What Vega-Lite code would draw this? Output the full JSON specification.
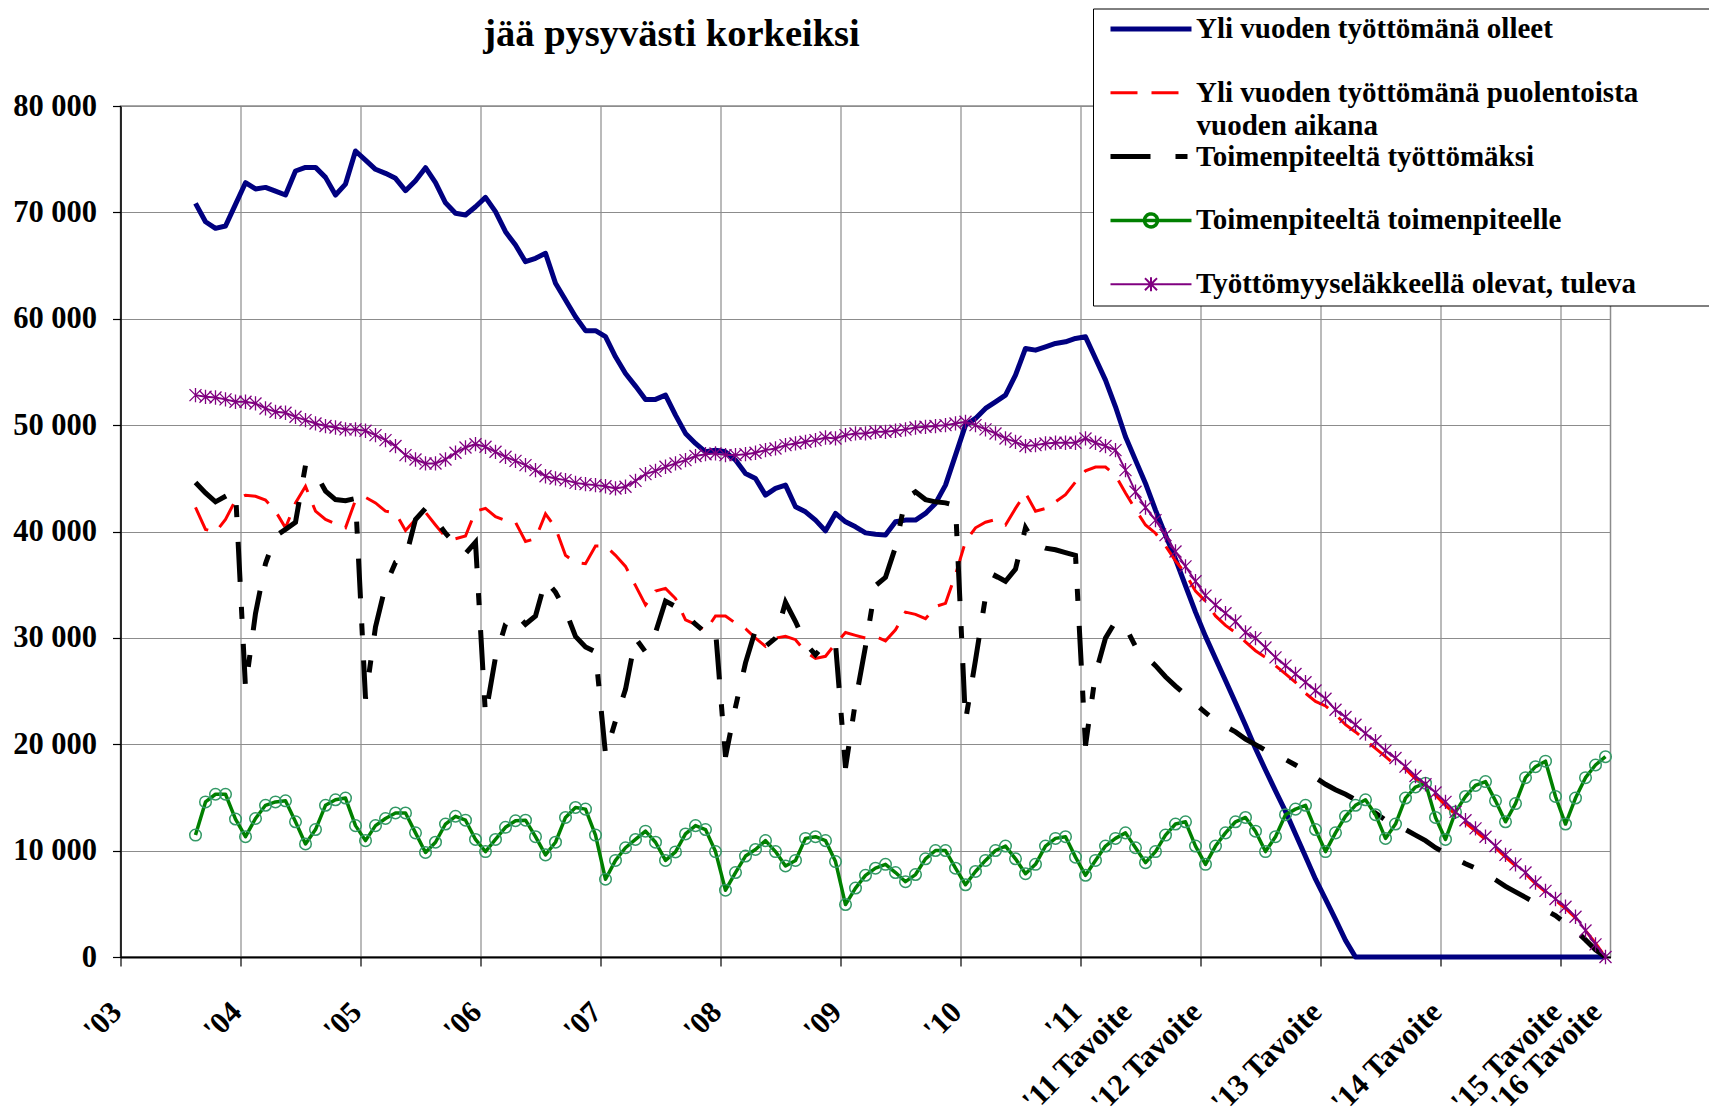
{
  "$schema": "https://vega.github.io/schema/vega-lite/v6.json",
  "width": 1490,
  "height": 851,
  "autosize": {"type": "none"},
  "padding": {"left": 120.5, "top": 106, "right": 98.5, "bottom": 150},
  "background": "white",
  "title": {"text": "jää pysyvästi korkeiksi", "font": "Liberation Serif", "fontSize": 38.5, "fontWeight": "bold", "color": "black", "anchor": "middle", "frame": "group", "dx": -194, "baseline": "alphabetic", "offset": -76},
  "data": {"values": [
    {"t":7,"A":70850,"B":42270,"C":44610,"D":11460,"E":52820},
    {"t":8,"A":69120,"B":40200,"C":43620,"D":14580,"E":52660},
    {"t":9,"A":68500,"B":39940,"C":42790,"D":15300,"E":52600},
    {"t":10,"A":68720,"B":41130,"C":43310,"D":15300,"E":52420},
    {"t":11,"A":70750,"B":42950,"C":43830,"D":12970,"E":52200},
    {"t":12,"A":72790,"B":43410,"C":25310,"D":11310,"E":52200},
    {"t":13,"A":72200,"B":43310,"C":32300,"D":13020,"E":52040},
    {"t":14,"A":72350,"B":42950,"C":36980,"D":14260,"E":51570},
    {"t":15,"A":72000,"B":41910,"C":39580,"D":14580,"E":51250},
    {"t":16,"A":71630,"B":40350,"C":40200,"D":14680,"E":51160},
    {"t":17,"A":73890,"B":42690,"C":40870,"D":12710,"E":50780},
    {"t":18,"A":74230,"B":44250,"C":46220,"D":10630,"E":50470},
    {"t":19,"A":74230,"B":41910,"C":45500,"D":11980,"E":50160},
    {"t":20,"A":73290,"B":41130,"C":43800,"D":14260,"E":49910},
    {"t":21,"A":71630,"B":40720,"C":43000,"D":14780,"E":49780},
    {"t":22,"A":72660,"B":40350,"C":42900,"D":14940,"E":49600},
    {"t":23,"A":75770,"B":42950,"C":43100,"D":12350,"E":49600},
    {"t":24,"A":74920,"B":43210,"C":24280,"D":10940,"E":49470},
    {"t":25,"A":74050,"B":42690,"C":31020,"D":12350,"E":49060},
    {"t":26,"A":73670,"B":41910,"C":34910,"D":13020,"E":48590},
    {"t":27,"A":73200,"B":41750,"C":37090,"D":13540,"E":48030},
    {"t":28,"A":72040,"B":40100,"C":37500,"D":13540,"E":47180},
    {"t":29,"A":72980,"B":41130,"C":41130,"D":11670,"E":46770},
    {"t":30,"A":74200,"B":41800,"C":42170,"D":9830,"E":46400},
    {"t":31,"A":72790,"B":40610,"C":41130,"D":10790,"E":46400},
    {"t":32,"A":70900,"B":39470,"C":39840,"D":12500,"E":46770},
    {"t":33,"A":69910,"B":39320,"C":38800,"D":13230,"E":47400},
    {"t":34,"A":69750,"B":39580,"C":37920,"D":12860,"E":47900},
    {"t":35,"A":70530,"B":41910,"C":38990,"D":11050,"E":48210},
    {"t":36,"A":71410,"B":42170,"C":22720,"D":9910,"E":47960},
    {"t":37,"A":70070,"B":41390,"C":28170,"D":11050,"E":47490},
    {"t":38,"A":68180,"B":41030,"C":31280,"D":12190,"E":47020},
    {"t":39,"A":66930,"B":40870,"C":32310,"D":12810,"E":46640},
    {"t":40,"A":65360,"B":39060,"C":31280,"D":12860,"E":46240},
    {"t":41,"A":65680,"B":39320,"C":32060,"D":11310,"E":45770},
    {"t":42,"A":66150,"B":41650,"C":35430,"D":9600,"E":45200},
    {"t":43,"A":63330,"B":40350,"C":34290,"D":10790,"E":44990},
    {"t":44,"A":61760,"B":37760,"C":32570,"D":13120,"E":44830},
    {"t":45,"A":60190,"B":37090,"C":30140,"D":14060,"E":44570},
    {"t":46,"A":58880,"B":36980,"C":29150,"D":13900,"E":44450},
    {"t":47,"A":58880,"B":38640,"C":28680,"D":11460,"E":44360},
    {"t":48,"A":58320,"B":38640,"C":19090,"D":7310,"E":44260},
    {"t":49,"A":56420,"B":37760,"C":22200,"D":9080,"E":44050},
    {"t":50,"A":54860,"B":36720,"C":25160,"D":10270,"E":44200},
    {"t":51,"A":53670,"B":34910,"C":29980,"D":11050,"E":44760},
    {"t":52,"A":52420,"B":33090,"C":28680,"D":11830,"E":45390},
    {"t":53,"A":52420,"B":34390,"C":30500,"D":10790,"E":45700},
    {"t":54,"A":52820,"B":34650,"C":33460,"D":9080,"E":46080},
    {"t":55,"A":50940,"B":33700,"C":32940,"D":9880,"E":46400},
    {"t":56,"A":49220,"B":31690,"C":32210,"D":11570,"E":46710},
    {"t":57,"A":48280,"B":31280,"C":31280,"D":12350,"E":47090},
    {"t":58,"A":47490,"B":30660,"C":30500,"D":11980,"E":47270},
    {"t":59,"A":47650,"B":32060,"C":30760,"D":9910,"E":47340},
    {"t":60,"A":47490,"B":32060,"C":18830,"D":6280,"E":47180},
    {"t":61,"A":46710,"B":31380,"C":23500,"D":7940,"E":47180},
    {"t":62,"A":45460,"B":30860,"C":27650,"D":9490,"E":47270},
    {"t":63,"A":44990,"B":29980,"C":30760,"D":10110,"E":47400},
    {"t":64,"A":43420,"B":29200,"C":29200,"D":10940,"E":47650},
    {"t":65,"A":44050,"B":29980,"C":29980,"D":9910,"E":47810},
    {"t":66,"A":44360,"B":30140,"C":33350,"D":8560,"E":48120},
    {"t":67,"A":42320,"B":29830,"C":31540,"D":9080,"E":48280},
    {"t":68,"A":41850,"B":28680,"C":29460,"D":11150,"E":48430},
    {"t":69,"A":41070,"B":28060,"C":28420,"D":11310,"E":48590},
    {"t":70,"A":40060,"B":28270,"C":29460,"D":10940,"E":48840},
    {"t":71,"A":41700,"B":29460,"C":29460,"D":8970,"E":48750},
    {"t":72,"A":40910,"B":30500,"C":17790,"D":4930,"E":49060},
    {"t":73,"A":40440,"B":30240,"C":24020,"D":6480,"E":49220},
    {"t":74,"A":39870,"B":29980,"C":29200,"D":7680,"E":49220},
    {"t":75,"A":39750,"B":30140,"C":34910,"D":8350,"E":49370},
    {"t":76,"A":39660,"B":29720,"C":35690,"D":8710,"E":49370},
    {"t":77,"A":40910,"B":30760,"C":38540,"D":7940,"E":49470},
    {"t":78,"A":41070,"B":32420,"C":43100,"D":7080,"E":49600},
    {"t":79,"A":41070,"B":32210,"C":43730,"D":7750,"E":49780},
    {"t":80,"A":41700,"B":31800,"C":43000,"D":9230,"E":49840},
    {"t":81,"A":42640,"B":32940,"C":42790,"D":10010,"E":49910},
    {"t":82,"A":44360,"B":33250,"C":42690,"D":10010,"E":50000},
    {"t":83,"A":47180,"B":35950,"C":42430,"D":8350,"E":50160},
    {"t":84,"A":50000,"B":39060,"C":22200,"D":6790,"E":50310},
    {"t":85,"A":50630,"B":40350,"C":27910,"D":8040,"E":50000},
    {"t":86,"A":51570,"B":40870,"C":33870,"D":9080,"E":49600},
    {"t":87,"A":52190,"B":41130,"C":35840,"D":10010,"E":49220},
    {"t":88,"A":52820,"B":40610,"C":35320,"D":10430,"E":48750},
    {"t":89,"A":54700,"B":42170,"C":36460,"D":9230,"E":48430},
    {"t":90,"A":57210,"B":43620,"C":40350,"D":7830,"E":48030},
    {"t":91,"A":57050,"B":41910,"C":38800,"D":8710,"E":48120},
    {"t":92,"A":57360,"B":42170,"C":38440,"D":10430,"E":48280},
    {"t":93,"A":57680,"B":42790,"C":38280,"D":11150,"E":48340},
    {"t":94,"A":57830,"B":43460,"C":38020,"D":11310,"E":48340},
    {"t":95,"A":58150,"B":44660,"C":37760,"D":9390,"E":48340},
    {"t":96,"A":58300,"B":45700,"C":19870,"D":7680,"E":48750},
    {"t":97,"A":56270,"B":46060,"C":26610,"D":9080,"E":48340},
    {"t":98,"A":54230,"B":46060,"C":29980,"D":10430,"E":48030},
    {"t":99,"A":51720,"B":45280,"C":31540,"D":11150,"E":47650},
    {"t":100,"A":48900,"B":43620,"C":31020,"D":11670,"E":45770},
    {"t":101,"A":46710,"B":42070,"C":29200,"D":10270,"E":43730},
    {"t":102,"A":44520,"B":40610,"C":28270,"D":8870,"E":42260},
    {"t":103,"A":42010,"B":39840,"C":27390,"D":9910,"E":41070},
    {"t":104,"A":39660,"B":38640,"C":26350,"D":11460,"E":39660},
    {"t":105,"A":37400,"B":37240,"C":25470,"D":12500,"E":38120},
    {"t":106,"A":34900,"B":36050,"C":24640,"D":12710,"E":36720},
    {"t":107,"A":32420,"B":34390,"C":23760,"D":10430,"E":35320},
    {"t":108,"A":30140,"B":33460,"C":22980,"D":8710,"E":33970},
    {"t":109,"A":28060,"B":32060,"C":22200,"D":10430,"E":33090},
    {"t":110,"A":25990,"B":31170,"C":21680,"D":11670,"E":32320},
    {"t":111,"A":23910,"B":30500,"C":21160,"D":12710,"E":31540},
    {"t":112,"A":21790,"B":29620,"C":20490,"D":13120,"E":30500},
    {"t":113,"A":19600,"B":28790,"C":19970,"D":11830,"E":29980},
    {"t":114,"A":17580,"B":28170,"C":19450,"D":9910,"E":29100},
    {"t":115,"A":15610,"B":27390,"C":19090,"D":11310,"E":28170},
    {"t":116,"A":13690,"B":26610,"C":18570,"D":13380,"E":27390},
    {"t":117,"A":11570,"B":25830,"C":18050,"D":13900,"E":26610},
    {"t":118,"A":9440,"B":24790,"C":17530,"D":14260,"E":25830},
    {"t":119,"A":7310,"B":24020,"C":16860,"D":11980,"E":25050},
    {"t":120,"A":5450,"B":23600,"C":16240,"D":9910,"E":24280},
    {"t":121,"A":3530,"B":22800,"C":15720,"D":11670,"E":23240},
    {"t":122,"A":1560,"B":21840,"C":15300,"D":13230,"E":22560},
    {"t":123,"A":0,"B":21160,"C":14780,"D":14260,"E":21840},
    {"t":124,"A":0,"B":20380,"C":14160,"D":14780,"E":21010},
    {"t":125,"A":0,"B":19610,"C":13540,"D":13380,"E":20280},
    {"t":126,"A":0,"B":18830,"C":12860,"D":11150,"E":19400},
    {"t":127,"A":0,"B":18050,"C":12500,"D":12500,"E":18700},
    {"t":128,"A":0,"B":17690,"C":11980,"D":14940,"E":17900},
    {"t":129,"A":0,"B":16750,"C":11460,"D":15980,"E":17010},
    {"t":130,"A":0,"B":15980,"C":10940,"D":16340,"E":16240},
    {"t":131,"A":0,"B":15200,"C":10270,"D":13120,"E":15460},
    {"t":132,"A":0,"B":14260,"C":9750,"D":11050,"E":14580},
    {"t":133,"A":0,"B":13380,"C":9230,"D":13640,"E":13640},
    {"t":134,"A":0,"B":12600,"C":8770,"D":15090,"E":12860},
    {"t":135,"A":0,"B":11830,"C":8350,"D":16130,"E":12090},
    {"t":136,"A":0,"B":11050,"C":7830,"D":16490,"E":11310},
    {"t":137,"A":0,"B":10270,"C":7260,"D":14680,"E":10430},
    {"t":138,"A":0,"B":9390,"C":6640,"D":12710,"E":9600},
    {"t":139,"A":0,"B":8560,"C":6120,"D":14420,"E":8710},
    {"t":140,"A":0,"B":7830,"C":5600,"D":16860,"E":7940},
    {"t":141,"A":0,"B":6900,"C":5080,"D":17890,"E":7000},
    {"t":142,"A":0,"B":6120,"C":4410,"D":18410,"E":6220},
    {"t":143,"A":0,"B":5340,"C":3890,"D":15090,"E":5450},
    {"t":144,"A":0,"B":4560,"C":3160,"D":12500,"E":4720},
    {"t":145,"A":0,"B":3680,"C":2490,"D":14940,"E":3790},
    {"t":146,"A":0,"B":2490,"C":1610,"D":16860,"E":2490},
    {"t":147,"A":0,"B":1300,"C":670,"D":18050,"E":1190},
    {"t":148,"A":0,"B":0,"C":0,"D":18830,"E":0}
  ]},
  "transform": [{"fold": ["A", "B", "C", "D", "E"], "as": ["s", "v"]}],
  "encoding": {
    "x": {
      "field": "t", "type": "quantitative",
      "scale": {"domain": [-0.5, 148.5], "nice": false, "zero": false},
      "axis": {
        "title": null,
        "values": [-0.5, 0, 11.5, 12, 23.5, 24, 35.5, 36, 47.5, 48, 59.5, 60, 71.5, 72, 83.5, 84, 95.5, 96, 101, 107.5, 108, 119.5, 120, 131.5, 132, 143.5, 144, 148],
        "grid": true, "gridColor": "#8c8c8c", "gridWidth": 1.2,
        "gridOpacity": {"condition": {"test": "datum.value % 1 != 0", "value": 1}, "value": 0},
        "ticks": true, "tickSize": 9, "tickColor": "black", "tickWidth": 1.2,
        "tickOpacity": {"condition": {"test": "datum.value % 1 != 0", "value": 1}, "value": 0},
        "domainColor": "black", "domainWidth": 2,
        "labelExpr": "datum.value % 1 != 0 ? '' : datum.value == 101 ? \"'11 Tavoite\" : datum.value == 108 ? \"'12 Tavoite\" : datum.value == 120 ? \"'13 Tavoite\" : datum.value == 132 ? \"'14 Tavoite\" : datum.value == 144 ? \"'15 Tavoite\" : datum.value == 148 ? \"'16 Tavoite\" : \"'\" + format(3 + datum.value / 12, '02d')",
        "labelAngle": -45, "labelAlign": "right", "labelBaseline": "middle",
        "labelOffset": -9, "labelPadding": 41,
        "labelFont": "Liberation Serif", "labelFontSize": 30.5, "labelFontWeight": "bold", "labelColor": "black",
        "labelOverlap": false, "labelBound": false, "labelFlush": false
      }
    },
    "y": {
      "field": "v", "type": "quantitative",
      "scale": {"domain": [0, 80000], "nice": false},
      "axis": {
        "title": null,
        "values": [0, 10000, 20000, 30000, 40000, 50000, 60000, 70000, 80000],
        "grid": true, "gridColor": "#8c8c8c", "gridWidth": 1.2,
        "tickSize": 8, "tickColor": "black", "tickWidth": 1.2,
        "domainColor": "black", "domainWidth": 1.5,
        "labelExpr": "replace(format(datum.value, ',d'), ',', ' ')",
        "labelFont": "Liberation Serif", "labelFontSize": 30.5, "labelFontWeight": "bold", "labelColor": "black",
        "labelPadding": 16, "labelOverlap": false, "labelFlush": false
      }
    },
    "color": {
      "field": "s", "type": "nominal",
      "scale": {"domain": ["A", "B", "C", "D", "E"], "range": ["#000080", "#ff0000", "#000000", "#008000", "#800080"]},
      "legend": {
        "orient": "none", "legendX": 972.5, "legendY": -97.5, "direction": "vertical",
        "title": null, "padding": 6, "strokeColor": "black", "fillColor": "white",
        "symbolSize": 784, "symbolOffset": 37.5, "labelOffset": 30.5, "rowPadding": 33.8,
        "labelFont": "Liberation Serif", "labelFontSize": 29, "labelFontWeight": "bold", "labelColor": "black", "labelLimit": 900,
        "labelExpr": "datum.value == 'A' ? 'Yli vuoden työttömänä olleet' : datum.value == 'B' ? 'Yli vuoden työttömänä puolentoista' : datum.value == 'C' ? 'Toimenpiteeltä työttömäksi' : datum.value == 'D' ? 'Toimenpiteeltä toimenpiteelle' : 'Työttömyyseläkkeellä olevat, tuleva\u00a0\u00a0\u00a0\u00a0\u00a0\u00a0\u00a0\u00a0\u00a0\u00a0\u00a0\u00a0\u00a0\u00a0\u00a0\u00a0\u00a0\u00a0\u00a0\u00a0\u200b'",
        "encode": {
          "symbols": {
            "update": {
              "shape": {"signal": "datum.value == 'D' ? 'M-2.893,0L2.893,0M0.464,0A0.464,0.464,0,1,1,-0.464,0A0.464,0.464,0,1,1,0.464,0' : datum.value == 'E' ? 'M-2.893,0L2.893,0M-0.43,-0.43L0.43,0.43M-0.43,0.43L0.43,-0.43M0,-0.5L0,0.5' : 'M-2.893,0L2.893,0'"},
              "strokeDash": {"signal": "datum.value == 'B' ? [27, 14] : datum.value == 'C' ? [40, 25, 12, 25] : [1, 0]"},
              "strokeWidth": {"signal": "datum.value == 'A' ? 5 : datum.value == 'B' ? 3 : datum.value == 'C' ? 5 : datum.value == 'D' ? 3.5 : 2"},
              "fill": {"value": "transparent"},
              "stroke": {"scale": "color", "field": "value"},
              "opacity": {"value": 1}
            }
          }
        }
      }
    }
  },
  "layer": [
    {"transform": [{"filter": "datum.s == 'A'"}], "mark": {"type": "line", "strokeWidth": 5, "strokeJoin": "round"}},
    {"transform": [{"filter": "datum.s == 'B'"}], "mark": {"type": "line", "strokeWidth": 3, "strokeDash": [27, 14]}},
    {"transform": [{"filter": "datum.s == 'C'"}], "mark": {"type": "line", "strokeWidth": 5, "strokeDash": [40, 25, 12, 25]}},
    {"transform": [{"filter": "datum.s == 'D'"}], "mark": {"type": "line", "strokeWidth": 3.5, "strokeJoin": "round"}},
    {
      "transform": [{"filter": "datum.s == 'D'"}],
      "mark": {"type": "point", "filled": false, "size": 133, "strokeWidth": 1.5, "opacity": 1},
      "encoding": {
        "color": {"value": "#339966"},
        "shape": {
          "field": "s", "type": "nominal",
          "scale": {"domain": ["D"], "range": ["circle"]},
          "legend": {
            "orient": "none", "legendX": 1076.1, "legendY": 29, "padding": 0,
            "title": "vuoden aikana", "titleFont": "Liberation Serif", "titleFontSize": 29, "titleFontWeight": "bold", "titleColor": "black",
            "titleBaseline": "alphabetic", "titleLimit": 600, "titlePadding": 0,
            "symbolOpacity": 0, "labelOpacity": 0
          }
        }
      }
    },
    {"transform": [{"filter": "datum.s == 'E'"}], "mark": {"type": "line", "strokeWidth": 2}},
    {
      "transform": [{"filter": "datum.s == 'E'"}],
      "mark": {"type": "point", "shape": "M-1,-1L1,1M-1,1L1,-1M0,-1.2L0,1.2", "filled": false, "size": 144, "strokeWidth": 1.3, "opacity": 1},
      "encoding": {"color": {"value": "#800080"}}
    }
  ],
  "config": {
    "font": "Liberation Serif",
    "view": {"stroke": "#8c8c8c", "strokeWidth": 1.5},
    "legend": {"symbolStrokeWidth": 1.5}
  }
}
